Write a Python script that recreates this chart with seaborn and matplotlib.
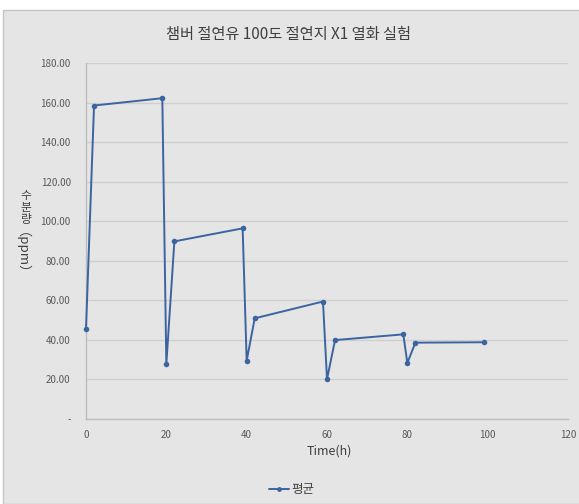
import matplotlib
matplotlib.use("Agg")
import matplotlib.pyplot as plt
from matplotlib.patches import Rectangle
from matplotlib.lines import Line2D
import seaborn as sns
import pandas as pd

# Measurement times (h) and mean moisture content (ppm)
hours = [0, 2, 19, 20, 22, 39, 40, 42, 59, 60, 62, 79, 80, 82, 99]
moisture = [45.5, 158.5, 162.2, 27.8, 89.8, 96.4, 29.4, 50.9, 59.4, 20.1,
            39.9, 42.8, 28.3, 38.6, 38.8]
series_name = "평균"
title = "챔버 절연유 100도 절연지 X1 열화 실험"
x_label = "Time(h)"
y_label_word = "수분량"
y_label_unit = "（ppm）"
y_ticks = [0, 20, 40, 60, 80, 100, 120, 140, 160, 180]
x_ticks = [0, 20, 40, 60, 80, 100, 120]

sns.set_theme(style="white")
plt.rcParams["font.family"] = ["Noto Sans CJK KR", "DejaVu Sans"]

bg = "#e5e5e5"
line_color = "#3b64a0"
text_color = "#595959"
label_color = "#404040"

fig = plt.figure(figsize=(5.79, 5.04), dpi=100)
fig.patch.set_facecolor("white")
# chart area panel with border, kept underneath the axes
fig.patches.append(Rectangle((3 / 579, 0), 1, 1 - 10 / 504, transform=fig.transFigure,
                             facecolor=bg, edgecolor="#c6c6c6", linewidth=1.0, zorder=-10))

ax = fig.add_axes([86 / 579, 1 - 419 / 504, (568 - 86) / 579, (419 - 63) / 504])
ax.set_zorder(1)
ax.set_facecolor(bg)

df = pd.DataFrame({"hours": hours, "moisture": moisture})
sns.lineplot(data=df, x="hours", y="moisture", ax=ax, color=line_color,
             marker="o", markersize=4, markeredgewidth=0, linewidth=1.4,
             sort=False, label=series_name, legend=False, zorder=3)
for ln in ax.lines:
    ln.set_clip_on(False)

ax.set_xlim(0, 120)
ax.set_ylim(0, 180)
ax.set_xticks(x_ticks)
ax.set_yticks(y_ticks)
ax.set_yticklabels(["-" if v == 0 else f"{v:.2f}" for v in y_ticks])
ax.tick_params(axis="both", length=0, labelsize=7, labelcolor=text_color)
ax.tick_params(axis="y", pad=11)
ax.tick_params(axis="x", pad=8)
ax.yaxis.grid(True, color="#cfcfcf", linewidth=1.0)
ax.xaxis.grid(False)
ax.set_axisbelow(True)
for side in ["top", "right"]:
    ax.spines[side].set_visible(False)
for side in ["left", "bottom"]:
    ax.spines[side].set_color("#bdbdbd")
    ax.spines[side].set_linewidth(1.0)

ax.set_xlabel("")
ax.set_ylabel("")
fig.text(329 / 579, 1 - 451 / 504, x_label, ha="center", va="center",
         fontsize=9, color=label_color)

# vertical axis title: Hangul stacked upright, unit turned sideways
label_x = 26 / 579
for i, ch in enumerate(y_label_word):
    fig.text(label_x, 1 - (195 + 12 * i) / 504, ch, ha="center", va="center",
             fontsize=8.5, color=label_color)
fig.text(15 / 579, 1 - 260 / 504, y_label_unit, ha="center", va="center",
         rotation=-90, fontsize=9.5, color=label_color)

fig.text(289 / 579, 1 - 34 / 504, title, ha="center", va="center",
         fontsize=11, color=label_color)

handle = Line2D([], [], color=line_color, marker="o", markersize=3.5,
                markeredgewidth=0, linewidth=1.4)
fig.legend([handle], [series_name], loc="center", bbox_to_anchor=(292 / 579, 1 - 490 / 504),
           frameon=False, fontsize=9, handlelength=1.6, handletextpad=0.2,
           labelcolor=label_color)

fig.savefig("out.png", dpi=100, facecolor=fig.get_facecolor())
